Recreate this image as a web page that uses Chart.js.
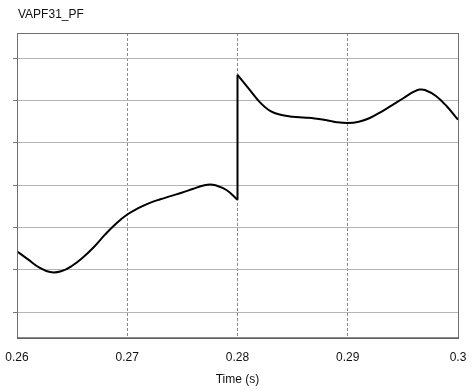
<!DOCTYPE html>
<html>
<head>
<meta charset="utf-8">
<script src="https://cdn.jsdelivr.net/npm/chart.js@4.4.0/dist/chart.umd.min.js"></script>
<style>
    html, body { margin: 0; padding: 0; background: #ffffff; }
    #wrap { width: 476px; height: 390px; }
</style>
</head>
<body>
<div id="wrap"><canvas id="pfChart"></canvas></div>
<script>
// Chart data
const chartTitle = 'VAPF31_PF';
const xAxisTitle = 'Time (s)';
const xTicks = [0.26, 0.27, 0.28, 0.29, 0.30];
const xTickLabels = ['0.26', '0.27', '0.28', '0.29', '0.3'];
const yTicks = [0.93, 0.94, 0.95, 0.96, 0.97, 0.98, 0.99];

// before the step at t = 0.28
const timeBefore = [
    0.260, 0.261, 0.262, 0.263, 0.264, 0.265, 0.266, 0.267, 0.268, 0.269,
    0.270, 0.271, 0.272, 0.273, 0.274, 0.275, 0.276, 0.277, 0.2775, 0.278,
    0.279, 0.280
];
const pfBefore = [
    0.9444, 0.9425, 0.9406, 0.9395, 0.9397, 0.9410, 0.9430, 0.9455, 0.9484, 0.9510,
    0.9531, 0.9546, 0.9558, 0.9567, 0.9575, 0.9583, 0.9592, 0.9600, 0.9602, 0.9600,
    0.9589, 0.9566
];
// after the step
const timeAfter = [
    0.280, 0.281, 0.282, 0.283, 0.284, 0.285, 0.286, 0.287, 0.288, 0.289,
    0.290, 0.291, 0.292, 0.293, 0.294, 0.295, 0.296, 0.2965, 0.297, 0.298,
    0.299, 0.300
];
const pfAfter = [
    0.9861, 0.9829, 0.9797, 0.9775, 0.9766, 0.9762, 0.9760, 0.9758, 0.9754, 0.9749,
    0.9747, 0.9750, 0.9759, 0.9773, 0.9789, 0.9805, 0.9821, 0.9826, 0.9825, 0.9811,
    0.9786, 0.9755
];

const FONT = "'Liberation Sans', Arial, sans-serif";

// Frame around the plot and the title at top-left
const framePlugin = {
    id: 'frame',
    afterDraw(chart) {
        const { ctx, chartArea: a } = chart;
        ctx.save();
        ctx.strokeStyle = '#6e6e6e';
        ctx.lineWidth = 1;
        ctx.strokeRect(a.left + 0.5, a.top + 0.5, a.right - a.left, a.bottom - a.top);
        ctx.strokeStyle = '#333333';
        ctx.beginPath();
        ctx.moveTo(a.left, a.bottom + 0.5);
        ctx.lineTo(a.right + 1, a.bottom + 0.5);
        ctx.stroke();
        ctx.fillStyle = '#111111';
        ctx.font = '12px ' + FONT;
        ctx.textBaseline = 'middle';
        ctx.textAlign = 'left';
        ctx.fillText(chartTitle, a.left + 1, 15);
        ctx.restore();
    }
};

const toPoints = (ts, vs) => ts.map((t, i) => ({ x: t, y: vs[i] }));
const lineStyle = {
    borderColor: '#000000',
    borderWidth: 2,
    pointRadius: 0,
    fill: false,
    tension: 0.4
};

new Chart(document.getElementById('pfChart'), {
    type: 'line',
    data: {
        datasets: [
            { ...lineStyle, label: 'before', data: toPoints(timeBefore, pfBefore) },
            { ...lineStyle, label: 'step', tension: 0,
              data: [{ x: 0.28, y: pfBefore[pfBefore.length - 1] }, { x: 0.28, y: pfAfter[0] }] },
            { ...lineStyle, label: 'after', data: toPoints(timeAfter, pfAfter) }
        ]
    },
    options: {
        responsive: true,
        maintainAspectRatio: false,
        animation: false,
        layout: { padding: { left: 13, right: 18, top: 33, bottom: 3 } },
        plugins: {
            legend: { display: false },
            tooltip: { enabled: false }
        },
        scales: {
            x: {
                type: 'linear',
                min: 0.26,
                max: 0.30,
                afterBuildTicks: s => { s.ticks = xTicks.map(v => ({ value: v })); },
                // let the end labels hang past the plot edges like the original
                afterFit: s => { s.paddingLeft = 0; s.paddingRight = 0; },
                ticks: {
                    color: '#111111',
                    font: { family: FONT, size: 12, lineHeight: 1 },
                    padding: 14,
                    maxRotation: 0,
                    callback: (v, i) => xTickLabels[i]
                },
                grid: {
                    color: '#8a8a8a',
                    lineWidth: 1,
                    drawTicks: false
                },
                border: { display: false, dash: [3, 2] },
                title: {
                    display: true,
                    text: xAxisTitle,
                    color: '#111111',
                    font: { family: FONT, size: 12 },
                    padding: { top: -5, bottom: 0 }
                }
            },
            y: {
                min: 0.924033,
                max: 0.99597,
                afterBuildTicks: s => { s.ticks = yTicks.map(v => ({ value: v })); },
                ticks: { display: false },
                grid: {
                    color: '#b4b4b4',
                    lineWidth: 1,
                    tickLength: 4,
                    tickColor: '#777777'
                },
                border: { display: false }
            }
        }
    },
    plugins: [framePlugin]
});
</script>
</body>
</html>
